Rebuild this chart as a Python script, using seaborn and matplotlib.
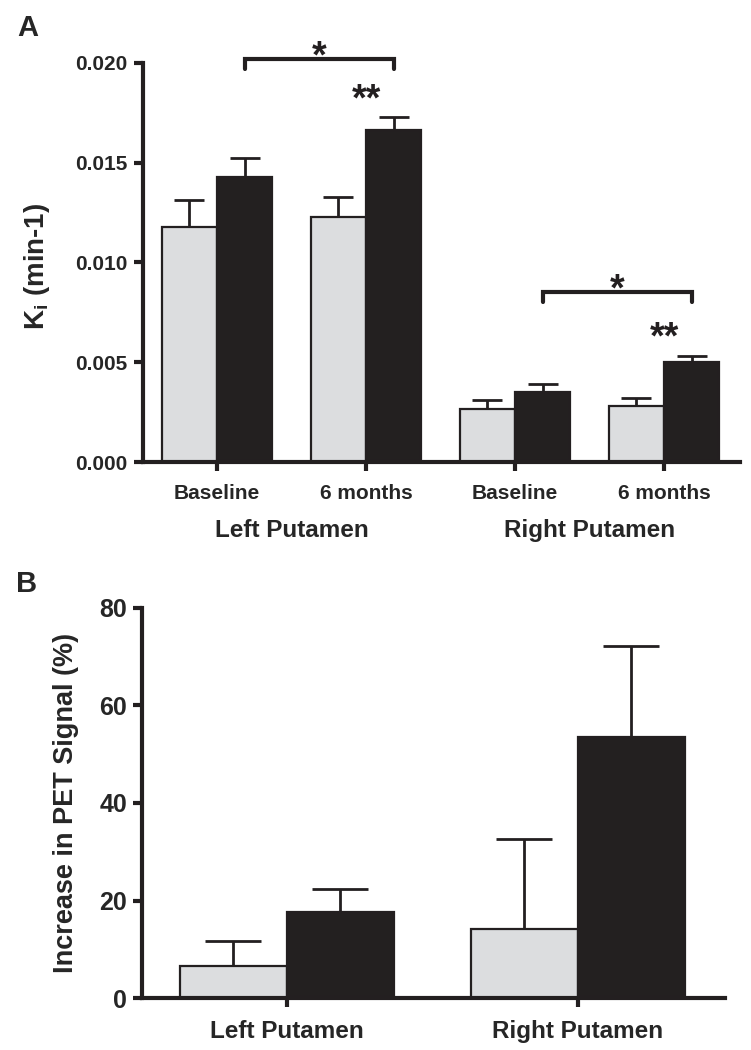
import numpy as np
import pandas as pd
import matplotlib
matplotlib.use("Agg")
import matplotlib.pyplot as plt
import matplotlib.transforms as mtransforms
import seaborn as sns

# ---------------- data ----------------
groups = ["Group 1", "Group 2"]
a_regions = ["Left Putamen", "Left Putamen", "Right Putamen", "Right Putamen"]
a_times = ["Baseline", "6 months", "Baseline", "6 months"]
a_keys = ["L-Baseline", "L-6 months", "R-Baseline", "R-6 months"]
ki_gray = [0.0118, 0.0123, 0.00265, 0.0028]
ki_gray_err = [0.00135, 0.0010, 0.00045, 0.0004]
ki_black = [0.0143, 0.01665, 0.0035, 0.0050]
ki_black_err = [0.00095, 0.00065, 0.0004, 0.0003]
a_yticks = [0.000, 0.005, 0.010, 0.015, 0.020]
a_region_labels = ["Left Putamen", "Right Putamen"]

b_regions = ["Left Putamen", "Right Putamen"]
pet_gray = [6.6, 14.2]
pet_gray_err = [5.1, 18.4]
pet_black = [17.6, 53.5]
pet_black_err = [4.8, 18.7]
b_yticks = [0, 20, 40, 60, 80]

# significance annotations (panel A)
bracket_pairs = [(0, 1), (2, 3)]
bracket_y = [0.0202, 0.0085]
bracket_drop = 0.0005
star_single_y = [0.0207, 0.0090]
star_double_cat = [1, 3]
star_double_y = [0.0185, 0.0066]

GRAY = "#dcdddf"
BLACK = "#231f20"

sns.set_style("ticks")
plt.rcParams["font.family"] = ["Liberation Sans", "DejaVu Sans"]
plt.rcParams["font.weight"] = "bold"
plt.rcParams["mathtext.fontset"] = "custom"
plt.rcParams["mathtext.rm"] = "Liberation Sans:bold"
plt.rcParams["mathtext.it"] = "Liberation Sans:bold"
plt.rcParams["mathtext.bf"] = "Liberation Sans:bold"

fig = plt.figure(figsize=(7.51, 10.5), dpi=100)
axA = fig.add_axes([0.1904, 0.56, 0.795, 0.38])
axB = fig.add_axes([0.189, 0.0495, 0.776, 0.3715])

dfA = pd.DataFrame({
    "key": a_keys * 2,
    "value": ki_gray + ki_black,
    "err": ki_gray_err + ki_black_err,
    "group": [groups[0]] * 4 + [groups[1]] * 4,
})
dfB = pd.DataFrame({
    "key": b_regions * 2,
    "value": pet_gray + pet_black,
    "err": pet_gray_err + pet_black_err,
    "group": [groups[0]] * 2 + [groups[1]] * 2,
})


def draw(ax, df, keys, width, capsize):
    sns.barplot(data=df, x="key", y="value", hue="group", order=keys,
                hue_order=groups, palette=[GRAY, BLACK], width=width,
                edgecolor=BLACK, linewidth=1.6, errorbar=None, legend=False,
                ax=ax, zorder=2)
    centers = {}
    for g, cont in zip(groups, ax.containers):
        sub = df[df["group"] == g].set_index("key").loc[keys]
        xs = [p.get_x() + p.get_width() / 2 for p in cont.patches]
        hs = [p.get_height() for p in cont.patches]
        centers[g] = xs
        ax.errorbar(xs, hs, yerr=[np.zeros(len(xs)), sub["err"].values],
                    fmt="none", ecolor=BLACK, elinewidth=2.0, capsize=capsize,
                    capthick=2.0, zorder=1)
    for s in ["top", "right"]:
        ax.spines[s].set_visible(False)
    for s in ["left", "bottom"]:
        ax.spines[s].set_linewidth(3.0)
        ax.spines[s].set_color(BLACK)
    ax.tick_params(axis="both", width=3.0, length=6.5, color=BLACK)
    ax.set_xlabel("")
    return centers


# ---------------- panel A ----------------
cA = draw(axA, dfA, a_keys, 0.74, 11)
axA.set_xlim(-0.497, 3.51)
axA.set_ylim(0, 0.020)
axA.set_yticks(a_yticks)
axA.set_yticklabels([f"{v:.3f}" for v in a_yticks], fontsize=15, fontweight="bold")
axA.set_xticks(range(4))
axA.set_xticklabels(a_times, fontsize=15, fontweight="bold")
axA.tick_params(axis="y", pad=5)
axA.tick_params(axis="x", pad=9)
axA.set_ylabel(r"K$_{\mathrm{i}}$ (min-1)", fontsize=20, fontweight="bold")
axA.yaxis.set_label_coords(-0.152, 0.49)

trA = mtransforms.blended_transform_factory(axA.transData, axA.transAxes)
for i, lab in enumerate(a_region_labels):
    axA.text(2 * i + 0.5, -0.188, lab, transform=trA, ha="center",
             va="baseline", fontsize=17.5, fontweight="bold")

blk = cA[groups[1]]
for (i, j), yb, ys in zip(bracket_pairs, bracket_y, star_single_y):
    x0, x1 = blk[i], blk[j]
    axA.plot([x0, x0, x1, x1], [yb - bracket_drop, yb, yb, yb - bracket_drop],
             color=BLACK, lw=3.0, clip_on=False, solid_capstyle="round",
             solid_joinstyle="miter")
    axA.annotate("*", xy=((x0 + x1) / 2, ys), xytext=(0, -13),
                 textcoords="offset points", ha="center", va="baseline",
                 fontsize=27, fontweight="bold", color=BLACK, annotation_clip=False)
for c, ys in zip(star_double_cat, star_double_y):
    axA.annotate("**", xy=(c, ys), xytext=(0, -13), textcoords="offset points",
                 ha="center", va="baseline", fontsize=27, fontweight="bold",
                 color=BLACK, annotation_clip=False)

# ---------------- panel B ----------------
draw(axB, dfB, b_regions, 0.736, 20)
axB.set_xlim(-0.498, 1.505)
axB.set_ylim(0, 80)
axB.set_yticks(b_yticks)
axB.set_yticklabels([str(v) for v in b_yticks], fontsize=18, fontweight="bold")
axB.set_xticks(range(2))
axB.set_xticklabels(b_regions, fontsize=17.5, fontweight="bold")
axB.tick_params(axis="y", pad=4)
axB.tick_params(axis="x", pad=9)
axB.set_ylabel("Increase in PET Signal (%)", fontsize=19.5, fontweight="bold")
axB.yaxis.set_label_coords(-0.108, 0.5)

fig.text(17 / 751, 1 - 36 / 1050, "A", fontsize=21, fontweight="bold", va="baseline")
fig.text(16 / 751, 1 - 592 / 1050, "B", fontsize=21, fontweight="bold", va="baseline")

fig.savefig("out.png", dpi=100, facecolor="white")
